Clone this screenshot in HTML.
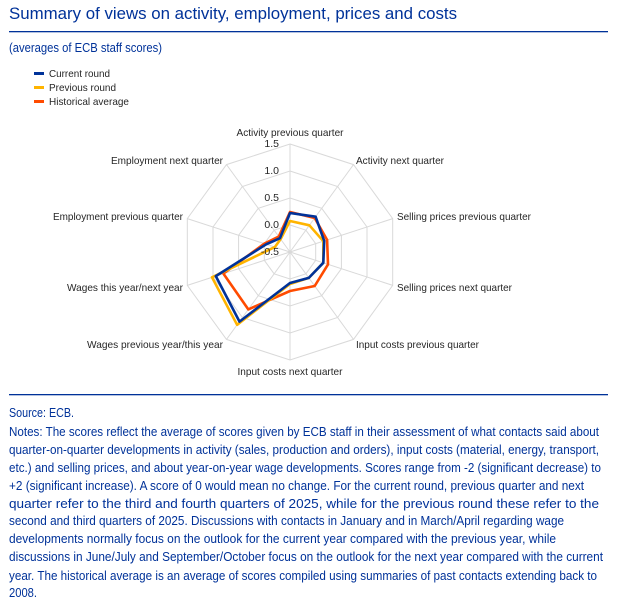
<!DOCTYPE html>
<html><head><meta charset="utf-8"><style>
html,body{margin:0;padding:0;background:#fff;width:617px;height:610px;overflow:hidden}
svg{display:block}
.lab{font-family:"Liberation Sans",sans-serif;font-size:10.5px;fill:#262626}
.nt{font-family:"Liberation Sans",sans-serif;font-size:12.5px;fill:#003299}
</style></head><body>
<svg id="s" width="617" height="610" xmlns="http://www.w3.org/2000/svg">
<text x="9" y="19" font-family="Liberation Sans,sans-serif" font-size="16.5" fill="#003299" textLength="448" lengthAdjust="spacingAndGlyphs">Summary of views on activity, employment, prices and costs</text>
<rect x="9" y="31" width="599" height="1.3" fill="#003299"/>
<text x="9" y="52" class="nt" font-size="11" textLength="153" lengthAdjust="spacingAndGlyphs">(averages of ECB staff scores)</text>
<rect x="34" y="72" width="10" height="3" fill="#003299"/>
<rect x="34" y="86" width="10" height="3" fill="#ffb400"/>
<rect x="34" y="100" width="10" height="3" fill="#ff4b00"/>
<text x="49" y="77" class="lab" textLength="61" lengthAdjust="spacingAndGlyphs">Current round</text>
<text x="49" y="91" class="lab" textLength="67" lengthAdjust="spacingAndGlyphs">Previous round</text>
<text x="49" y="105" class="lab" textLength="80" lengthAdjust="spacingAndGlyphs">Historical average</text>
<g id="g"></g>
<text x="279" y="147" class="lab" text-anchor="end">1.5</text>
<text x="279" y="174" class="lab" text-anchor="end">1.0</text>
<text x="279" y="201" class="lab" text-anchor="end">0.5</text>
<text x="279" y="228" class="lab" text-anchor="end">0.0</text>
<text x="279" y="255" class="lab" text-anchor="end">-0.5</text>
<text x="290" y="136" class="lab" text-anchor="middle" textLength="107" lengthAdjust="spacingAndGlyphs">Activity previous quarter</text>
<text x="356" y="164" class="lab" textLength="88" lengthAdjust="spacingAndGlyphs">Activity next quarter</text>
<text x="397" y="220" class="lab" textLength="134" lengthAdjust="spacingAndGlyphs">Selling prices previous quarter</text>
<text x="397" y="291" class="lab" textLength="115" lengthAdjust="spacingAndGlyphs">Selling prices next quarter</text>
<text x="356" y="348" class="lab" textLength="123" lengthAdjust="spacingAndGlyphs">Input costs previous quarter</text>
<text x="290" y="375" class="lab" text-anchor="middle" textLength="105" lengthAdjust="spacingAndGlyphs">Input costs next quarter</text>
<text x="223" y="348" class="lab" text-anchor="end" textLength="136" lengthAdjust="spacingAndGlyphs">Wages previous year/this year</text>
<text x="183" y="291" class="lab" text-anchor="end" textLength="116" lengthAdjust="spacingAndGlyphs">Wages this year/next year</text>
<text x="183" y="220" class="lab" text-anchor="end" textLength="130" lengthAdjust="spacingAndGlyphs">Employment previous quarter</text>
<text x="223" y="164" class="lab" text-anchor="end" textLength="112" lengthAdjust="spacingAndGlyphs">Employment next quarter</text>
<rect x="9" y="394" width="599" height="1.3" fill="#003299"/>
<text x="9" y="417" class="nt" textLength="65" lengthAdjust="spacingAndGlyphs">Source: ECB.</text>
<text x="9" y="436" class="nt" textLength="590" lengthAdjust="spacingAndGlyphs">Notes: The scores reflect the average of scores given by ECB staff in their assessment of what contacts said about</text>
<text x="9" y="454" class="nt" textLength="590" lengthAdjust="spacingAndGlyphs">quarter-on-quarter developments in activity (sales, production and orders), input costs (material, energy, transport,</text>
<text x="9" y="472" class="nt" textLength="592" lengthAdjust="spacingAndGlyphs">etc.) and selling prices, and about year-on-year wage developments. Scores range from -2 (significant decrease) to</text>
<text x="9" y="490" class="nt" textLength="575" lengthAdjust="spacingAndGlyphs">+2 (significant increase). A score of 0 would mean no change. For the current round, previous quarter and next</text>
<text x="9" y="508" class="nt" textLength="590" lengthAdjust="spacingAndGlyphs">quarter refer to the third and fourth quarters of 2025, while for the previous round these refer to the</text>
<text x="9" y="525" class="nt" textLength="555" lengthAdjust="spacingAndGlyphs">second and third quarters of 2025. Discussions with contacts in January and in March/April regarding wage</text>
<text x="9" y="543" class="nt" textLength="547" lengthAdjust="spacingAndGlyphs">developments normally focus on the outlook for the current year compared with the previous year, while</text>
<text x="9" y="561" class="nt" textLength="594" lengthAdjust="spacingAndGlyphs">discussions in June/July and September/October focus on the outlook for the next year compared with the current</text>
<text x="9" y="580" class="nt" textLength="588" lengthAdjust="spacingAndGlyphs">year. The historical average is an average of scores compiled using summaries of past contacts extending back to</text>
<text x="9" y="597" class="nt" textLength="28" lengthAdjust="spacingAndGlyphs">2008.</text>
</svg>
<script>
var cx=290,cy=252,g=document.getElementById('g'),h='';
function pts(rs){return rs.map(function(r,i){var a=i*Math.PI/5;return (cx+r*Math.sin(a)).toFixed(1)+','+(cy-r*Math.cos(a)).toFixed(1)}).join(' ')}
[27,54,81,108].forEach(function(r){h+='<polygon points="'+pts([r,r,r,r,r,r,r,r,r,r])+'" fill="none" stroke="#d9d9d9" stroke-width="1"/>'});
for(var i=0;i<10;i++){var a=i*Math.PI/5;h+='<line x1="'+cx+'" y1="'+cy+'" x2="'+(cx+108*Math.sin(a))+'" y2="'+(cy-108*Math.cos(a))+'" stroke="#d9d9d9" stroke-width="1"/>'}
h+='<polygon points="'+pts([40,42,39,40,42,39,71,70,27,19])+'" fill="none" stroke="#ff4b00" stroke-width="2.6" stroke-linejoin="round"/>';
h+='<polygon points="'+pts([31,33,35,35,32,32,90,82,16,16])+'" fill="none" stroke="#ffb400" stroke-width="2.6" stroke-linejoin="round"/>';
h+='<polygon points="'+pts([39,43.6,36,35,32,31,86,78,25,17])+'" fill="none" stroke="#003299" stroke-width="2.6" stroke-linejoin="round"/>';
g.innerHTML=h;
</script>
</body></html>
